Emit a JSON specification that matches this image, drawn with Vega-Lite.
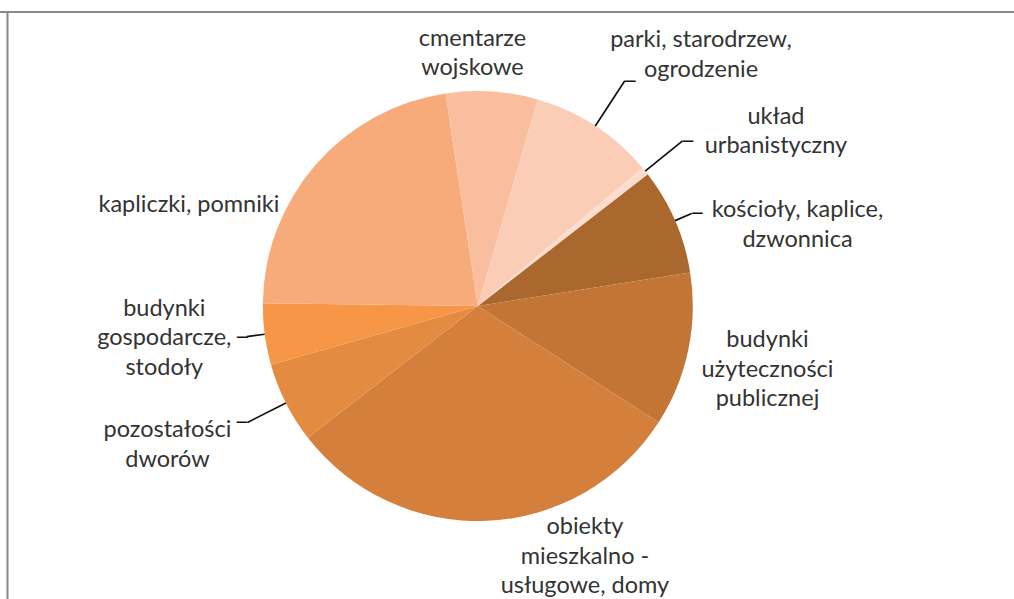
{
  "$schema": "https://vega.github.io/schema/vega-lite/v6.json",
  "autosize": {"type": "none"},
  "padding": {"left": 7, "top": 13, "right": 65.4, "bottom": 0},
  "width": 941.6,
  "height": 586,
  "background": "white",
  "config": {
    "view": {"stroke": null},
    "text": {"font": "Lato", "fontSize": 23.5, "color": "#333333", "lineHeight": 29.5, "align": "center", "baseline": "middle", "lineBreak": "\n"}
  },
  "data": {
    "values": [
      {"idx": 1, "category": "kościoły, kaplice, dzwonnica", "label": "kościoły, kaplice,\ndzwonnica", "value": 8.0},
      {"idx": 2, "category": "budynki użyteczności publicznej", "label": "budynki\nużyteczności\npublicznej", "value": 11.6},
      {"idx": 3, "category": "obiekty mieszkalno - usługowe, domy", "label": "obiekty\nmieszkalno -\nusługowe, domy", "value": 30.4},
      {"idx": 4, "category": "pozostałości dworów", "label": "pozostałości\ndworów", "value": 6.1},
      {"idx": 5, "category": "budynki gospodarcze, stodoły", "label": "budynki\ngospodarcze,\nstodoły", "value": 4.6},
      {"idx": 6, "category": "kapliczki, pomniki", "label": "kapliczki, pomniki", "value": 22.4},
      {"idx": 7, "category": "cmentarze wojskowe", "label": "cmentarze\nwojskowe", "value": 6.9},
      {"idx": 8, "category": "parki, starodrzew, ogrodzenie", "label": "parki, starodrzew,\nogrodzenie", "value": 9.4},
      {"idx": 9, "category": "układ urbanistyczny", "label": "układ\nurbanistyczny", "value": 0.6}
    ]
  },
  "transform": [
    {"window": [{"op": "sum", "field": "value", "as": "cum"}], "sort": [{"field": "idx"}], "frame": [null, 0]},
    {"calculate": "datum.cum - datum.value", "as": "start"},
    {"calculate": "datum.cum - datum.value / 2", "as": "mid"}
  ],
  "layer": [
    {
      "mark": {"type": "arc", "radius": 215, "strokeWidth": 0},
      "encoding": {
        "theta": {"field": "start", "type": "quantitative", "stack": null, "scale": {"domain": [0, 100], "range": [0.9111, 7.1943]}},
        "theta2": {"field": "cum"},
        "color": {
          "field": "category", "type": "nominal", "legend": null,
          "scale": {
            "domain": ["kościoły, kaplice, dzwonnica", "budynki użyteczności publicznej", "obiekty mieszkalno - usługowe, domy", "pozostałości dworów", "budynki gospodarcze, stodoły", "kapliczki, pomniki", "cmentarze wojskowe", "parki, starodrzew, ogrodzenie", "układ urbanistyczny"],
            "range": ["#AA682F", "#C27534", "#D4803C", "#E48B42", "#F79646", "#F8AB7A", "#F9BE9D", "#FBCDB6", "#FCDCCD"]
          }
        }
      }
    },
    {
      "transform": [{"filter": "datum.idx == 8"}],
      "mark": {"type": "arc", "stroke": "#111111", "strokeWidth": 1.7, "fillOpacity": 0, "radius": 269, "radius2": 215},
      "encoding": {"theta": {"field": "mid", "type": "quantitative", "stack": null}, "theta2": {"field": "mid"}}
    },
    {
      "transform": [{"filter": "datum.idx == 9"}],
      "mark": {"type": "arc", "stroke": "#111111", "strokeWidth": 1.7, "fillOpacity": 0, "radius": 263, "radius2": 215},
      "encoding": {"theta": {"field": "mid", "type": "quantitative", "stack": null}, "theta2": {"field": "mid"}}
    },
    {
      "transform": [{"filter": "datum.idx == 4"}],
      "mark": {"type": "arc", "stroke": "#111111", "strokeWidth": 1.7, "fillOpacity": 0, "radius": 258, "radius2": 215},
      "encoding": {"theta": {"field": "mid", "type": "quantitative", "stack": null}, "theta2": {"field": "mid"}}
    },
    {
      "transform": [{"filter": "datum.idx == 1 || datum.idx == 5"}],
      "mark": {"type": "arc", "stroke": "#111111", "strokeWidth": 1.7, "fillOpacity": 0, "radius": 233, "radius2": 215},
      "encoding": {"theta": {"field": "mid", "type": "quantitative", "stack": null}, "theta2": {"field": "mid"}}
    },
    {"transform": [{"filter": "datum.idx == 8"}], "mark": {"type": "text", "font": "DejaVu Sans", "fontWeight": "bold", "fontSize": 12, "color": "#111111", "radius": 269, "dx": 5.5}, "encoding": {"theta": {"field": "mid", "type": "quantitative", "stack": null}, "text": {"value": "—"}}},
    {"transform": [{"filter": "datum.idx == 9"}], "mark": {"type": "text", "font": "DejaVu Sans", "fontWeight": "bold", "fontSize": 12, "color": "#111111", "radius": 263, "dx": 5.5}, "encoding": {"theta": {"field": "mid", "type": "quantitative", "stack": null}, "text": {"value": "—"}}},
    {"transform": [{"filter": "datum.idx == 4"}], "mark": {"type": "text", "font": "DejaVu Sans", "fontWeight": "bold", "fontSize": 12, "color": "#111111", "radius": 258, "dx": -5.5}, "encoding": {"theta": {"field": "mid", "type": "quantitative", "stack": null}, "text": {"value": "—"}}},
    {"transform": [{"filter": "datum.idx == 1"}], "mark": {"type": "text", "font": "DejaVu Sans", "fontWeight": "bold", "fontSize": 12, "color": "#111111", "radius": 233, "dx": 5.5}, "encoding": {"theta": {"field": "mid", "type": "quantitative", "stack": null}, "text": {"value": "—"}}},
    {"transform": [{"filter": "datum.idx == 5"}], "mark": {"type": "text", "font": "DejaVu Sans", "fontWeight": "bold", "fontSize": 12, "color": "#111111", "radius": 233, "dx": -4.5}, "encoding": {"theta": {"field": "mid", "type": "quantitative", "stack": null}, "text": {"value": "—"}}},
    {"transform": [{"filter": "datum.idx == 1"}], "mark": {"type": "text", "radius": 300, "dx": 44.4, "dy": 23.5}, "encoding": {"theta": {"field": "mid", "type": "quantitative", "stack": null}, "text": {"field": "label"}}},
    {"transform": [{"filter": "datum.idx == 2"}], "mark": {"type": "text", "radius": 300, "dx": -3.9, "dy": -27.4}, "encoding": {"theta": {"field": "mid", "type": "quantitative", "stack": null}, "text": {"field": "label"}}},
    {"transform": [{"filter": "datum.idx == 3"}], "mark": {"type": "text", "radius": 300, "dx": 94, "dy": -78.7}, "encoding": {"theta": {"field": "mid", "type": "quantitative", "stack": null}, "text": {"field": "label"}}},
    {"transform": [{"filter": "datum.idx == 4"}], "mark": {"type": "text", "radius": 300, "dx": -42.6, "dy": -10.9}, "encoding": {"theta": {"field": "mid", "type": "quantitative", "stack": null}, "text": {"field": "label"}}},
    {"transform": [{"filter": "datum.idx == 5"}], "mark": {"type": "text", "radius": 300, "dx": -16.1, "dy": -36.8}, "encoding": {"theta": {"field": "mid", "type": "quantitative", "stack": null}, "text": {"field": "label"}}},
    {"transform": [{"filter": "datum.idx == 6"}], "mark": {"type": "text", "radius": 300, "dx": -62.6, "dy": 96}, "encoding": {"theta": {"field": "mid", "type": "quantitative", "stack": null}, "text": {"field": "label"}}},
    {"transform": [{"filter": "datum.idx == 7"}], "mark": {"type": "text", "radius": 300, "dx": -25.1, "dy": 32}, "encoding": {"theta": {"field": "mid", "type": "quantitative", "stack": null}, "text": {"field": "label"}}},
    {"transform": [{"filter": "datum.idx == 8"}], "mark": {"type": "text", "radius": 300, "dx": 59.3, "dy": -14.3}, "encoding": {"theta": {"field": "mid", "type": "quantitative", "stack": null}, "text": {"field": "label"}}},
    {"transform": [{"filter": "datum.idx == 9"}], "mark": {"type": "text", "radius": 300, "dx": 64.6, "dy": -0.8}, "encoding": {"theta": {"field": "mid", "type": "quantitative", "stack": null}, "text": {"field": "label"}}},
    {
      "data": {"values": [{"edge": "top"}]},
      "mark": {"type": "rule", "color": "#888888", "strokeWidth": 2},
      "encoding": {"x": {"value": -10}, "x2": {"value": 1030}, "y": {"value": -1}}
    },
    {
      "data": {"values": [{"edge": "left"}]},
      "mark": {"type": "rule", "color": "#888888", "strokeWidth": 2},
      "encoding": {"x": {"value": 0.5}, "y": {"value": -1}, "y2": {"value": 610}}
    }
  ]
}
